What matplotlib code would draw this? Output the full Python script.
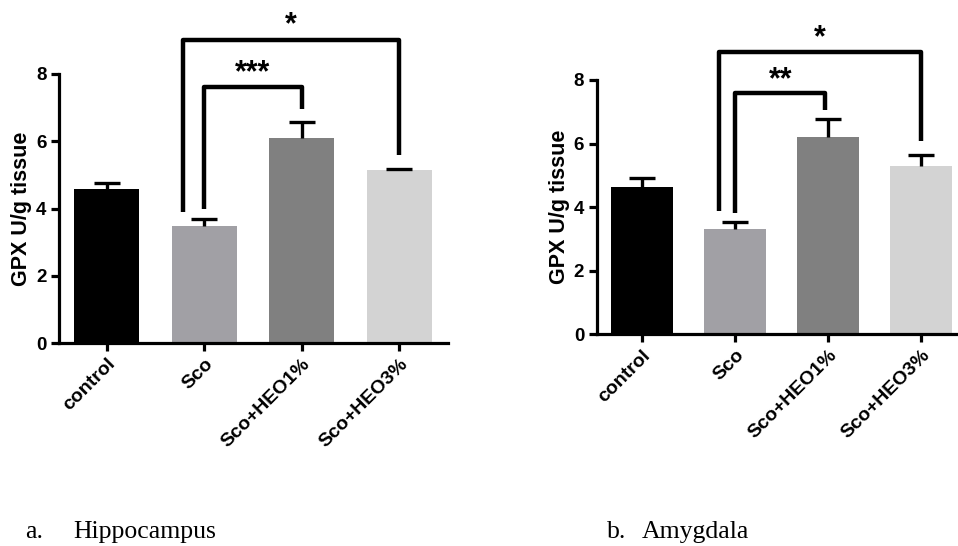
import matplotlib
matplotlib.use("Agg")
import matplotlib.pyplot as plt

categories = ["control", "Sco", "Sco+HEO1%", "Sco+HEO3%"]
bar_colors = ["#000000", "#a1a0a5", "#808080", "#d3d3d3"]

hippo_means = [4.57, 3.49, 6.09, 5.15]
hippo_sem = [0.20, 0.20, 0.47, 0.03]
amyg_means = [4.64, 3.31, 6.21, 5.30]
amyg_sem = [0.29, 0.23, 0.56, 0.33]

# brackets: (x_left, x_right, y_top, y_left_end, y_right_end, label)
hippo_brackets = [(1.0, 2.0, 7.6, 4.0, 6.96, "***"),
                  (0.78, 3.0, 9.02, 3.9, 5.6, "*")]
amyg_brackets = [(1.0, 1.97, 7.58, 3.82, 7.05, "**"),
                 (0.83, 3.0, 8.89, 3.89, 6.09, "*")]

caption_letters = ["a.", "b."]
caption_names = ["Hippocampus", "Amygdala"]

plt.rcParams['font.family'] = ['Liberation Sans', 'DejaVu Sans']

fig = plt.figure(figsize=(9.58, 5.46), dpi=100)

def panel(rect, means, sem, brackets, star_dy):
    ax = fig.add_axes(rect)
    x = list(range(len(categories)))
    ax.bar(x, means, width=0.67, color=bar_colors, zorder=2)
    eb = ax.errorbar(x, means, yerr=[[0]*len(sem), sem], fmt='none', ecolor='black',
                     elinewidth=2.4, capsize=9.5, capthick=2.4, zorder=3)
    caps = eb[1]
    if len(caps) == 2:
        caps[0].set_visible(False)
    ax.set_xlim(-0.49, 3.5)
    ax.set_ylim(0, 8)
    ax.set_yticks([0, 2, 4, 6, 8])
    ax.set_xticks(x)
    ax.set_xticklabels(categories, rotation=45, ha='right', rotation_mode='anchor',
                       fontsize=14, fontweight='bold')
    for lab in ax.get_yticklabels():
        lab.set_fontsize(13.5)
        lab.set_fontweight('bold')
    ax.set_ylabel("GPX U/g tissue", fontsize=15.5, fontweight='bold', labelpad=3)
    for s in ['top', 'right']:
        ax.spines[s].set_visible(False)
    for s in ['left', 'bottom']:
        ax.spines[s].set_linewidth(2.3)
    ax.tick_params(axis='both', width=2.3, length=6, pad=3)
    for (xl, xr, yt, yle, yre, lab) in brackets:
        ax.plot([xl, xl, xr, xr], [yle, yt, yt, yre], color='black', lw=3.2,
                solid_joinstyle='round', solid_capstyle='butt', clip_on=False, zorder=4)
        ax.text((xl + xr) / 2, yt + star_dy, lab, ha='center', va='center',
                fontsize=22, fontweight='bold', clip_on=False)
    return ax

panel([59/958, 1 - 343/546, (448 - 59)/958, (343 - 74)/546],
      hippo_means, hippo_sem, hippo_brackets, 0.42)
panel([596.7/958, 1 - 334.3/546, (967.5 - 596.7)/958, (334.3 - 80)/546],
      amyg_means, amyg_sem, amyg_brackets, 0.42)

ybase = 1 - 538/546
fig.text(25/958, ybase, caption_letters[0], fontsize=18.5, family='Liberation Serif',
         va='baseline', ha='left')
fig.text(73/958, ybase, caption_names[0], fontsize=18.5, family='Liberation Serif',
         va='baseline', ha='left')
fig.text(607/958, ybase, caption_letters[1], fontsize=18.5, family='Liberation Serif',
         va='baseline', ha='left')
fig.text(642/958, ybase, caption_names[1], fontsize=18.5, family='Liberation Serif',
         va='baseline', ha='left')

fig.savefig("out.png", dpi=100)
